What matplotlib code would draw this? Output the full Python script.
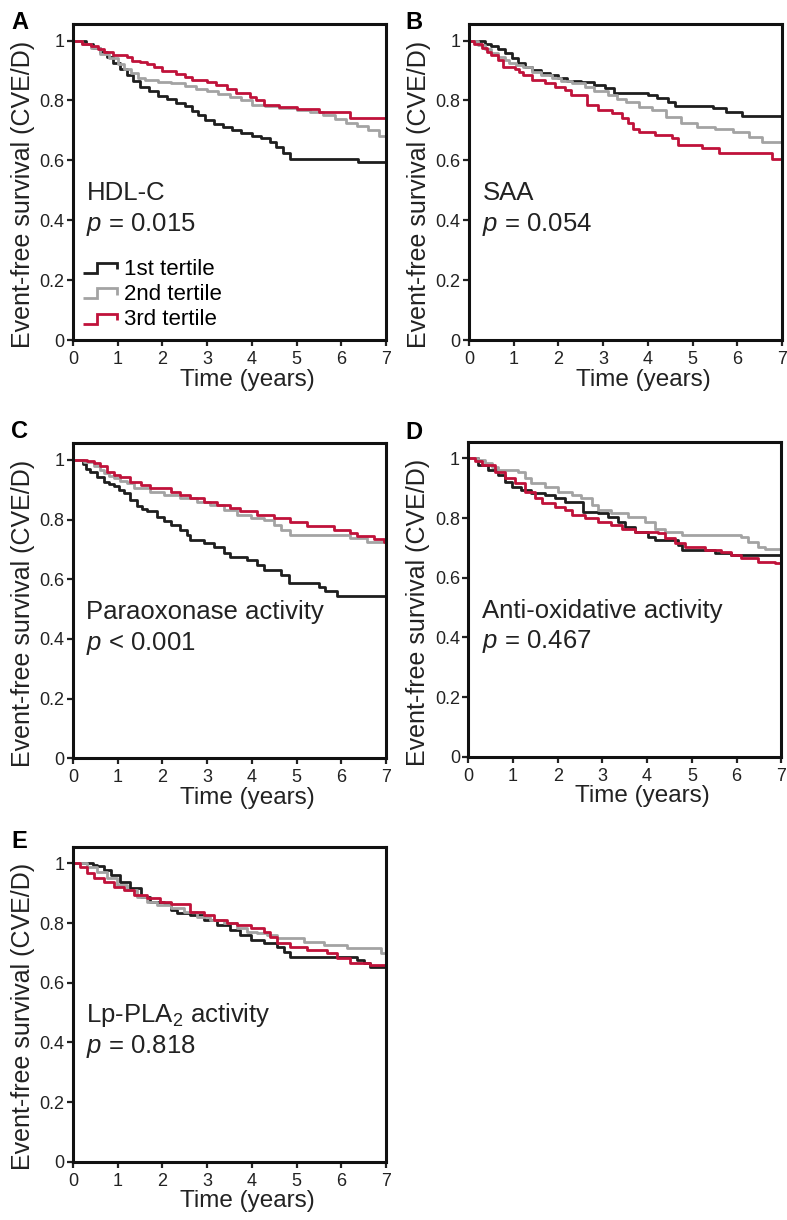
import matplotlib
matplotlib.use('Agg')
import matplotlib.pyplot as plt
from matplotlib.lines import Line2D
from matplotlib.legend_handler import HandlerLine2D

plt.rcParams['font.family'] = ['Liberation Sans', 'DejaVu Sans']
plt.rcParams['mathtext.fontset'] = 'custom'
plt.rcParams['mathtext.rm'] = 'Liberation Sans'
plt.rcParams['mathtext.it'] = 'Liberation Sans:italic'
plt.rcParams['mathtext.default'] = 'regular'

# ---- data (time in years, event-free survival) ----
# A: HDL-C
A1_t = [0, 0.3, 0.45, 0.6, 0.75, 0.9, 1.05, 1.2, 1.35, 1.5, 1.7, 1.9, 2.1, 2.3, 2.5, 2.65, 2.8, 2.95, 3.15, 3.35, 3.55, 3.75, 4.0, 4.2, 4.4, 4.55, 4.7, 4.85, 6.37]
A1_s = [1, 0.99, 0.975, 0.96, 0.945, 0.925, 0.905, 0.885, 0.865, 0.845, 0.83, 0.815, 0.805, 0.79, 0.78, 0.765, 0.75, 0.735, 0.72, 0.71, 0.70, 0.69, 0.68, 0.675, 0.66, 0.645, 0.625, 0.605, 0.595]
A2_t = [0, 0.2, 0.4, 0.6, 0.8, 1.0, 1.15, 1.3, 1.45, 1.6, 1.9, 2.2, 2.5, 2.75, 3.0, 3.25, 3.5, 3.75, 4.0, 4.3, 4.6, 5.0, 5.3, 5.6, 5.85, 6.1, 6.35, 6.6, 6.85]
A2_s = [1, 0.99, 0.975, 0.955, 0.94, 0.92, 0.905, 0.89, 0.875, 0.868, 0.862, 0.857, 0.847, 0.838, 0.83, 0.822, 0.812, 0.80, 0.785, 0.78, 0.775, 0.768, 0.76, 0.75, 0.738, 0.725, 0.715, 0.70, 0.68]
A3_t = [0, 0.2, 0.4, 0.55, 0.7, 0.9, 1.2, 1.32, 1.5, 1.66, 1.8, 2.0, 2.3, 2.5, 2.65, 3.0, 3.2, 3.45, 3.65, 3.95, 4.1, 4.27, 4.6, 5.0, 5.5, 6.2]
A3_s = [1, 0.99, 0.98, 0.97, 0.96, 0.952, 0.945, 0.933, 0.928, 0.922, 0.912, 0.898, 0.888, 0.878, 0.868, 0.862, 0.852, 0.837, 0.824, 0.813, 0.80, 0.785, 0.778, 0.772, 0.762, 0.74]

# B: SAA
B1_t = [0, 0.35, 0.5, 0.65, 0.8, 0.95, 1.1, 1.25, 1.4, 1.6, 1.8, 2.0, 2.2, 2.5, 2.8, 3.05, 3.25, 4.0, 4.2, 4.45, 4.6, 5.45, 5.75, 6.1]
B1_s = [1, 0.99, 0.982, 0.972, 0.958, 0.94, 0.924, 0.91, 0.9, 0.893, 0.885, 0.875, 0.866, 0.86, 0.852, 0.84, 0.824, 0.818, 0.807, 0.796, 0.782, 0.774, 0.762, 0.748]
B2_t = [0, 0.2, 0.35, 0.5, 0.65, 0.8, 0.9, 1.05, 1.2, 1.4, 1.6, 1.85, 2.05, 2.3, 2.6, 2.8, 3.1, 3.3, 3.5, 3.8, 4.1, 4.4, 4.75, 5.1, 5.5, 5.9, 6.25, 6.55]
B2_s = [1, 0.985, 0.97, 0.958, 0.946, 0.935, 0.924, 0.918, 0.912, 0.896, 0.885, 0.874, 0.866, 0.857, 0.846, 0.83, 0.818, 0.806, 0.796, 0.779, 0.768, 0.746, 0.723, 0.712, 0.706, 0.695, 0.679, 0.662]
B3_t = [0, 0.1, 0.28, 0.4, 0.5, 0.65, 0.76, 1.02, 1.12, 1.21, 1.4, 1.7, 1.92, 2.14, 2.29, 2.63, 2.89, 3.19, 3.41, 3.56, 3.67, 3.79, 4.16, 4.53, 4.68, 5.2, 5.58, 6.77]
B3_s = [1, 0.99, 0.974, 0.962, 0.952, 0.935, 0.913, 0.904, 0.895, 0.885, 0.868, 0.857, 0.846, 0.835, 0.818, 0.785, 0.768, 0.757, 0.74, 0.723, 0.706, 0.695, 0.684, 0.673, 0.65, 0.64, 0.623, 0.606]

# C: Paraoxonase activity
C1_t = [0, 0.22, 0.3, 0.39, 0.54, 0.69, 0.8, 0.91, 1.02, 1.13, 1.28, 1.43, 1.55, 1.66, 1.88, 2.03, 2.18, 2.4, 2.55, 2.62, 2.92, 3.15, 3.37, 3.52, 3.89, 4.12, 4.27, 4.64, 4.82, 5.5, 5.64, 5.91]
C1_s = [1, 0.985, 0.97, 0.961, 0.944, 0.927, 0.92, 0.911, 0.9, 0.888, 0.866, 0.844, 0.835, 0.827, 0.81, 0.795, 0.782, 0.765, 0.749, 0.732, 0.721, 0.709, 0.687, 0.676, 0.665, 0.648, 0.631, 0.615, 0.587, 0.575, 0.559, 0.545]
C2_t = [0, 0.24, 0.46, 0.6, 0.69, 0.8, 0.91, 1.05, 1.21, 1.36, 1.73, 2.03, 2.4, 2.77, 3.07, 3.37, 3.67, 3.97, 4.27, 4.49, 4.64, 4.86, 6.2, 6.58]
C2_s = [1, 0.994, 0.978, 0.965, 0.955, 0.945, 0.939, 0.93, 0.922, 0.905, 0.894, 0.883, 0.872, 0.86, 0.849, 0.832, 0.816, 0.804, 0.799, 0.782, 0.765, 0.749, 0.737, 0.726]
C3_t = [0, 0.31, 0.46, 0.61, 0.76, 0.91, 1.06, 1.28, 1.51, 1.73, 2.18, 2.4, 2.62, 2.92, 3.22, 3.52, 3.74, 4.12, 4.49, 4.86, 5.23, 5.83, 6.2, 6.35, 6.73, 6.95]
C3_s = [1, 0.995, 0.989, 0.978, 0.961, 0.95, 0.944, 0.927, 0.916, 0.905, 0.894, 0.883, 0.872, 0.86, 0.849, 0.838, 0.827, 0.816, 0.804, 0.793, 0.779, 0.765, 0.754, 0.745, 0.734, 0.726]

# D: Anti-oxidative activity
D1_t = [0, 0.22, 0.45, 0.67, 0.82, 0.97, 1.19, 1.41, 1.71, 1.94, 2.16, 2.57, 2.9, 3.13, 3.35, 3.5, 3.72, 4.02, 4.17, 4.69, 4.77, 5.51, 5.88]
D1_s = [1, 0.978, 0.961, 0.944, 0.922, 0.905, 0.894, 0.883, 0.877, 0.866, 0.855, 0.821, 0.816, 0.804, 0.788, 0.771, 0.754, 0.737, 0.726, 0.709, 0.693, 0.682, 0.676]
D2_t = [0, 0.22, 0.37, 0.52, 0.67, 1.12, 1.27, 1.41, 1.71, 2.01, 2.31, 2.53, 2.76, 2.9, 3.2, 3.57, 3.95, 4.17, 4.39, 4.77, 6.11, 6.25, 6.48, 6.63]
D2_s = [1, 0.994, 0.983, 0.972, 0.961, 0.955, 0.933, 0.916, 0.905, 0.888, 0.877, 0.866, 0.844, 0.827, 0.816, 0.804, 0.788, 0.765, 0.754, 0.743, 0.737, 0.721, 0.704, 0.695]
D3_t = [0, 0.15, 0.3, 0.6, 0.82, 1.04, 1.27, 1.49, 1.64, 1.94, 2.16, 2.31, 2.61, 2.9, 3.2, 3.43, 3.72, 4.24, 4.39, 4.62, 4.84, 5.29, 5.66, 5.88, 6.11, 6.48, 6.85]
D3_s = [1, 0.99, 0.978, 0.955, 0.933, 0.916, 0.888, 0.866, 0.849, 0.838, 0.827, 0.81, 0.799, 0.788, 0.777, 0.765, 0.754, 0.749, 0.732, 0.715, 0.704, 0.693, 0.687, 0.676, 0.665, 0.654, 0.648]

# E: Lp-PLA2 activity
E1_t = [0, 0.45, 0.54, 0.69, 0.84, 1.06, 1.28, 1.51, 1.73, 2.03, 2.18, 2.33, 2.62, 2.92, 3.22, 3.52, 3.74, 3.97, 4.27, 4.56, 4.71, 4.86, 6.35, 6.5, 6.65]
E1_s = [1, 0.995, 0.99, 0.978, 0.961, 0.939, 0.916, 0.888, 0.872, 0.866, 0.844, 0.832, 0.827, 0.81, 0.793, 0.777, 0.76, 0.743, 0.732, 0.721, 0.704, 0.687, 0.676, 0.665, 0.654]
E2_t = [0, 0.31, 0.54, 0.76, 0.98, 1.21, 1.43, 1.66, 1.88, 2.18, 2.48, 2.77, 3.07, 3.37, 3.67, 3.89, 4.12, 4.34, 4.56, 5.16, 5.61, 6.13, 6.88]
E2_s = [1, 0.989, 0.972, 0.95, 0.927, 0.911, 0.888, 0.872, 0.86, 0.849, 0.838, 0.821, 0.81, 0.799, 0.782, 0.771, 0.765, 0.76, 0.749, 0.737, 0.726, 0.715, 0.698]
E3_t = [0, 0.16, 0.31, 0.46, 0.69, 0.91, 1.13, 1.36, 1.66, 1.95, 2.18, 2.62, 2.92, 3.15, 3.45, 3.67, 3.97, 4.27, 4.41, 4.56, 4.86, 5.23, 5.68, 5.91, 6.2, 6.65]
E3_s = [1, 0.989, 0.966, 0.95, 0.939, 0.922, 0.911, 0.894, 0.883, 0.872, 0.863, 0.838, 0.827, 0.81, 0.799, 0.793, 0.782, 0.771, 0.754, 0.732, 0.721, 0.709, 0.698, 0.682, 0.665, 0.659]

panel_letters = ['A', 'B', 'C', 'D', 'E']
marker_names = ['HDL-C', 'SAA', 'Paraoxonase activity', 'Anti-oxidative activity', 'Lp-PLA$_2$ activity']
p_texts = ['= 0.015', '= 0.054', '< 0.001', '= 0.467', '= 0.818']
tertile_labels = ['1st tertile', '2nd tertile', '3rd tertile']
curves = [
    [(A1_t, A1_s), (A2_t, A2_s), (A3_t, A3_s)],
    [(B1_t, B1_s), (B2_t, B2_s), (B3_t, B3_s)],
    [(C1_t, C1_s), (C2_t, C2_s), (C3_t, C3_s)],
    [(D1_t, D1_s), (D2_t, D2_s), (D3_t, D3_s)],
    [(E1_t, E1_s), (E2_t, E2_s), (E3_t, E3_s)],
]
t_max = 7

colors = ['#1e1e1e', '#a3a3a3', '#c0123a']

# axes boxes in figure fractions, and where the panel letter goes
boxes = [
    [0.0928, 0.7213, 0.3977, 0.259],
    [0.596, 0.7213, 0.3977, 0.259],
    [0.0928, 0.3785, 0.3977, 0.258],
    [0.595, 0.3797, 0.3977, 0.258],
    [0.0928, 0.0478, 0.3977, 0.258],
]
letter_xy = [(0.014, 0.991), (0.515, 0.991), (0.014, 0.656), (0.515, 0.655), (0.014, 0.320)]


class StepHandler(HandlerLine2D):
    # legend key drawn as a little survival step
    def create_artists(self, legend, orig_handle, xdescent, ydescent, width, height, fontsize, trans):
        x0 = -xdescent
        x1 = x0 + width
        xm = x0 + 0.42 * width
        ylo = -ydescent + 0.1 * height
        yhi = -ydescent + 0.75 * height
        ln = Line2D([x0, xm, xm, x1, x1], [ylo, ylo, yhi, yhi, yhi - 0.4 * height],
                    color=orig_handle.get_color(), lw=orig_handle.get_linewidth(),
                    solid_joinstyle='miter', solid_capstyle='butt')
        ln.set_transform(trans)
        return [ln]


fig = plt.figure(figsize=(7.87, 12.2), dpi=100)

for i in range(5):
    ax = fig.add_axes(boxes[i])
    handles = []
    for k in range(3):
        t, s = curves[i][k]
        h, = ax.step(list(t) + [t_max], list(s) + [s[-1]], where='post',
                     color=colors[k], lw=2.0, label=tertile_labels[k])
        handles.append(h)

    ax.set_xlim(0, 7)
    ax.set_ylim(0, 1.055)
    ax.set_xticks(range(8))
    ax.set_yticks([0, 0.2, 0.4, 0.6, 0.8, 1.0])
    ax.set_yticklabels(['0', '0.2', '0.4', '0.6', '0.8', '1'])
    ax.tick_params(direction='out', length=4, width=1.6, labelsize=13, colors='#222222')
    ax.tick_params(axis='x', pad=4)
    ax.tick_params(axis='y', pad=2)
    for sp in ax.spines.values():
        sp.set_linewidth(2.2)
        sp.set_color('#111111')

    ax.set_xlabel('Time (years)', fontsize=17.5, color='#222222')
    ax.xaxis.set_label_coords(0.556, -0.125)
    ax.xaxis.label.set_va('center')
    ax.set_ylabel('Event-free survival (CVE/D)', fontsize=18, color='#222222')
    ax.yaxis.set_label_coords(-0.16, 0.46)
    ax.yaxis.label.set_va('center')

    ax.text(0.3, 0.49, marker_names[i], fontsize=18.5, va='center', color='#222222')
    ax.text(0.3, 0.385, r'$\mathit{p}$ ' + p_texts[i], fontsize=18.5, va='center', color='#222222')

    if i == 0:
        ax.legend(handles=handles, loc='lower left', bbox_to_anchor=(-0.005, -0.005),
                  frameon=False, fontsize=16, handlelength=1.55, handletextpad=0.3,
                  labelspacing=0.2, borderpad=0.3, borderaxespad=0.2,
                  handler_map={Line2D: StepHandler()})

    fig.text(letter_xy[i][0], letter_xy[i][1], panel_letters[i], fontsize=17,
             fontweight='bold', ha='left', va='top')

plt.savefig('out.png', dpi=100)
